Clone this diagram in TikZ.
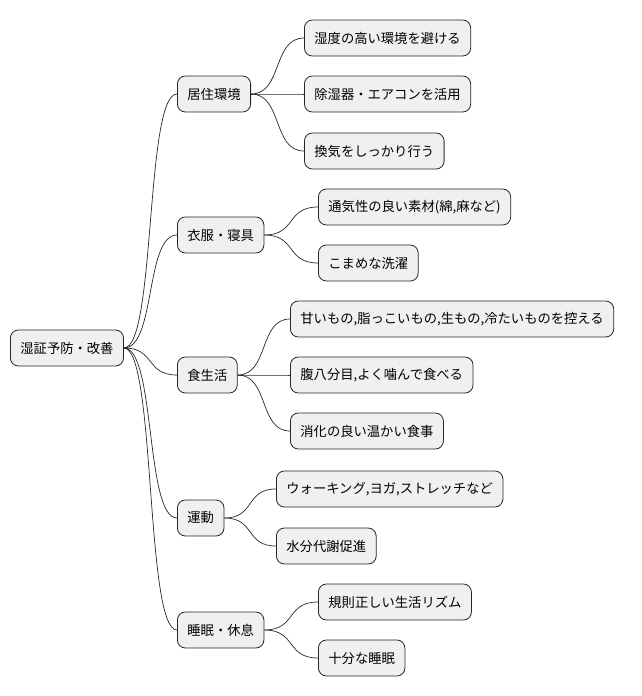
\documentclass[tikz,border=0pt]{standalone}
\usepackage{fontspec}
\usetikzlibrary{calc}
\newfontfamily\jp{Noto Sans CJK JP}
\begin{document}
\begin{tikzpicture}[x=1pt,y=-1pt,
  box/.style={draw=black!85,fill=black!6,rounded corners=8pt,line width=0.8pt,font=\jp\fontsize{13.3}{15}\selectfont,minimum height=36pt,inner xsep=10pt,anchor=west},
  con/.style={draw=black!85,line width=0.7pt}]
\useasboundingbox (0,0) rectangle (642,696);
\node[box] (r) at (10,348) {湿証予防・改善};
\node[box] (a) at (177,94) {居住環境};
\node[box] (b) at (177,235) {衣服・寝具};
\node[box] (c) at (177,375) {食生活};
\node[box] (d) at (177,518) {運動};
\node[box] (e) at (177,630) {睡眠・休息};
\node[box] (a1) at (304,38) {湿度の高い環境を避ける};
\node[box] (a2) at (304,94) {除湿器・エアコンを活用};
\node[box] (a3) at (304,151) {換気をしっかり行う};
\node[box] (b1) at (318,207) {通気性の良い素材(綿,麻など)};
\node[box] (b2) at (318,263) {こまめな洗濯};
\node[box] (c1) at (290,319) {甘いもの,脂っこいもの,生もの,冷たいものを控える};
\node[box] (c2) at (290,375) {腹八分目,よく噛んで食べる};
\node[box] (c3) at (290,431) {消化の良い温かい食事};
\node[box] (d1) at (276,489) {ウォーキング,ヨガ,ストレッチなど};
\node[box] (d2) at (276,546) {水分代謝促進};
\node[box] (e1) at (318,602) {規則正しい生活リズム};
\node[box] (e2) at (318,658) {十分な睡眠};
\foreach \p/\c in {r/a,r/b,r/c,r/d,r/e,a/a1,a/a2,a/a3,b/b1,b/b2,c/c1,c/c2,c/c3,d/d1,d/d2,e/e1,e/e2}{
  \path (\p.east) coordinate (P) (\c.west) coordinate (C);
  \draw[con] (P) .. controls ($(P)!0.6!(C|-P)$) and ($(C)!0.6!(P|-C)$) .. (C);
}
\end{tikzpicture}
\end{document}
